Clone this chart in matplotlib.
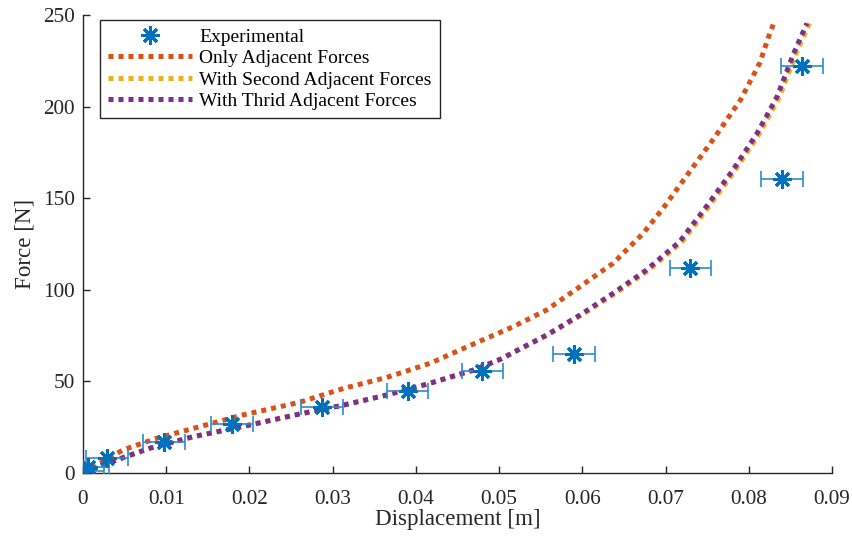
import matplotlib.pyplot as plt

# Experimental data (displacement [m], force [N])
exp_x = [0.0, 0.0006, 0.0029, 0.0097, 0.0179, 0.0287, 0.039, 0.048, 0.059, 0.073, 0.084, 0.0864]
exp_f = [1, 3.5, 8, 17.2, 27, 36, 45, 55.5, 65, 112, 160.5, 222]
exp_xerr = 0.0025

# Model: only adjacent forces
adj_x = [0, 0.0048, 0.0088, 0.014, 0.0192, 0.026, 0.0313, 0.0365, 0.0417, 0.0469, 0.0517,
         0.0557, 0.0597, 0.0637, 0.0673, 0.0697, 0.0729, 0.0761, 0.0790, 0.0813, 0.0826, 0.0830]
adj_f = [0, 12.6, 18.9, 25.3, 31.7, 38.6, 46.2, 52.2, 59.9, 70.4, 79.9,
         89, 101.7, 114.5, 130.8, 144.5, 164.5, 184.5, 203.6, 223.6, 240.9, 245.5]

# Model: with second adjacent forces
sec_x = [0, 0.004, 0.008, 0.0132, 0.020, 0.026, 0.0313, 0.0365, 0.0417, 0.0469, 0.0501,
         0.0558, 0.0599, 0.0640, 0.0680, 0.0720, 0.0752, 0.0784, 0.0813, 0.0837, 0.0857, 0.0873]
sec_f = [0, 7.1, 13.5, 19.8, 26.2, 32.2, 37.1, 42.6, 49, 56.2, 62,
         75.3, 86.2, 98.1, 110.8, 126.3, 145.4, 165.4, 185.4, 205.4, 229.1, 245.5]

# Model: with third adjacent forces
thr_x = [0, 0.004, 0.008, 0.0132, 0.020, 0.026, 0.0313, 0.0365, 0.0417, 0.0469, 0.0501,
         0.0557, 0.0597, 0.0637, 0.0677, 0.0717, 0.0749, 0.0781, 0.0810, 0.0834, 0.0854, 0.0870]
thr_f = [0, 7.1, 13.5, 19.8, 26.2, 32.2, 37.1, 42.6, 49, 56.2, 62,
         75.3, 86.2, 98.1, 110.8, 126.3, 145.4, 165.4, 185.4, 205.4, 229.1, 245.5]

plt.rcParams['font.family'] = ['Liberation Serif', 'DejaVu Serif']

fig = plt.figure(figsize=(8.53, 5.40), dpi=100)
ax = fig.add_axes([0.0973, 0.124, 0.878, 0.848])

dots = (0, (1, 1.0))
ax.plot(adj_x, adj_f, color='#D95319', lw=3.6, ls=dots, label='Only Adjacent Forces', zorder=2)
ax.plot(sec_x, sec_f, color='#EDB120', lw=3.6, ls=dots, label='With Second Adjacent Forces', zorder=3)
ax.plot(thr_x, thr_f, color='#7E2F8E', lw=3.6, ls=dots, label='With Thrid Adjacent Forces', zorder=4)
ax.errorbar(exp_x, exp_f, xerr=exp_xerr, fmt='none', ecolor='#2F8AD0', elinewidth=1.2,
            capsize=6, capthick=1.2, zorder=5)
ax.plot(exp_x, exp_f, ls='none', marker=(8, 2, 0), ms=13, mew=2.2, color='#0072BD',
        label='Experimental', zorder=6)

ax.set_xlim(0, 0.09)
ax.set_ylim(0, 250)
ax.set_xticks([0, 0.01, 0.02, 0.03, 0.04, 0.05, 0.06, 0.07, 0.08, 0.09])
ax.set_xticklabels(['0', '0.01', '0.02', '0.03', '0.04', '0.05', '0.06', '0.07', '0.08', '0.09'])
ax.set_yticks([0, 50, 100, 150, 200, 250])
ax.tick_params(direction='in', length=5, width=1, colors='#262626', labelsize=15.3)
ax.tick_params(axis='x', pad=12)
ax.tick_params(axis='y', pad=6)
for s in ['top', 'right']:
    ax.spines[s].set_visible(False)
for s in ['left', 'bottom']:
    ax.spines[s].set_color('#262626')
    ax.spines[s].set_linewidth(1)

ax.set_xlabel('Displacement [m]', fontsize=16.6, color='#262626', labelpad=0)
ax.set_ylabel('Force [N]', fontsize=16.6, color='#262626', labelpad=5.5)

h, l = ax.get_legend_handles_labels()
order = [3, 0, 1, 2]
leg = ax.legend([h[i] for i in order], [l[i] for i in order], loc='upper left',
                bbox_to_anchor=(0.023, 0.989), fontsize=14, fancybox=False, framealpha=1,
                edgecolor='#262626', handlelength=4.3, handletextpad=0.4,
                labelspacing=0.2, borderpad=0.4, borderaxespad=0)
leg.get_frame().set_linewidth(1)

fig.savefig('out.png', dpi=100)
